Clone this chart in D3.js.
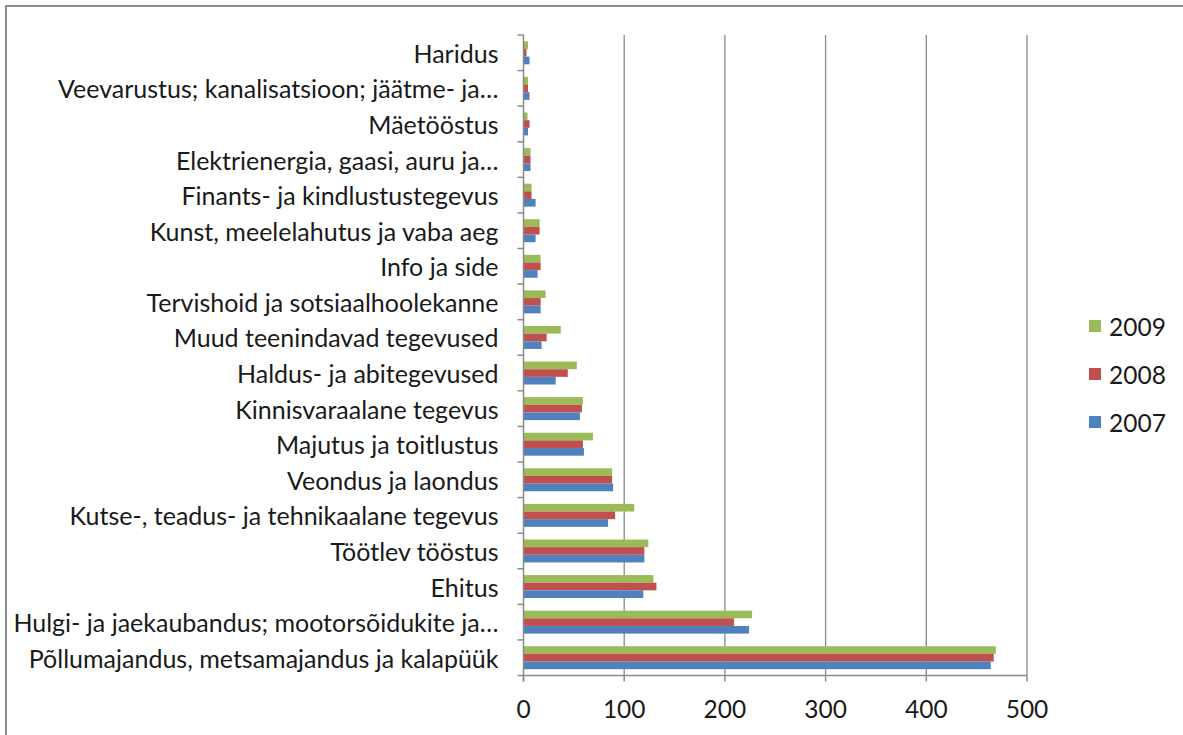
<!DOCTYPE html>
<html>
<head>
<meta charset="utf-8">
<script src="https://cdn.jsdelivr.net/npm/d3@7"></script>
<style>
  html, body { margin: 0; padding: 0; background: #fff; }
  svg { display: block; }
  text { font-family: Lato, "Open Sans", sans-serif; fill: #1a1a1a; }
</style>
</head>
<body>
<script>
const categories = [
  "Haridus",
  "Veevarustus; kanalisatsioon; jäätme- ja…",
  "Mäetööstus",
  "Elektrienergia, gaasi, auru ja…",
  "Finants- ja kindlustustegevus",
  "Kunst, meelelahutus ja vaba aeg",
  "Info ja side",
  "Tervishoid ja sotsiaalhoolekanne",
  "Muud teenindavad tegevused",
  "Haldus- ja abitegevused",
  "Kinnisvaraalane tegevus",
  "Majutus ja toitlustus",
  "Veondus ja laondus",
  "Kutse-, teadus- ja tehnikaalane tegevus",
  "Töötlev tööstus",
  "Ehitus",
  "Hulgi- ja jaekaubandus; mootorsõidukite ja…",
  "Põllumajandus, metsamajandus ja kalapüük"
];
const values2009 = [4.5, 4.5, 4, 7, 8, 16, 17, 22, 37, 53, 59, 69, 88, 110, 124, 129, 227, 469];
const values2008 = [3, 4.5, 6, 7, 8, 16, 17, 17, 23, 44, 58, 59, 88, 91, 120, 132, 209, 467];
const values2007 = [6, 6, 4.5, 7, 12, 12, 14, 17, 18, 32, 56, 60, 89, 84, 120, 119, 224, 464];
const seriesNames = ["2009", "2008", "2007"];
const seriesColors = ["#9BBB59", "#C0504D", "#4F81BD"];
const xTicks = [0, 100, 200, 300, 400, 500];

(function () {
const W = 1183, H = 735;
const svg = d3.select("body").append("svg").attr("width", W).attr("height", H);

// outer frame
svg.append("rect").attr("x", 6).attr("y", 6).attr("width", W + 20).attr("height", H + 20)
  .attr("fill", "none").attr("stroke", "#8c8c8c").attr("stroke-width", 2);

const pLeft = 523.5, pRight = 1027, pTop = 35, pBottom = 675.5;

const x = d3.scaleLinear().domain([0, 500]).range([pLeft, pRight]);
const y = d3.scaleBand().domain(categories).range([pTop, pBottom]).paddingInner(0.355).paddingOuter(0.1775);
const ySub = d3.scaleBand().domain(seriesNames).range([0, y.bandwidth()]);

// gridlines
svg.append("g").selectAll("line").data(xTicks.slice(1)).join("line")
  .attr("x1", d => x(d)).attr("x2", d => x(d)).attr("y1", pTop).attr("y2", pBottom)
  .attr("stroke", "#8a8a8a").attr("stroke-width", 1.3);

// bars
const seriesData = [values2009, values2008, values2007];
seriesNames.forEach((s, i) => {
  svg.append("g").selectAll("rect").data(categories).join("rect")
    .attr("x", x(0))
    .attr("y", (c) => y(c) + ySub(s))
    .attr("width", (c, j) => x(seriesData[i][j]) - x(0))
    .attr("height", ySub.bandwidth())
    .attr("fill", seriesColors[i]);
});

// y axis
const yAxisG = svg.append("g").attr("transform", `translate(${pLeft},0)`);
yAxisG.append("line").attr("x1", 0).attr("x2", 0).attr("y1", pTop).attr("y2", pBottom + 6)
  .attr("stroke", "#8a8a8a").attr("stroke-width", 1.5);
const bounds = categories.map((c) => y(c) - y.step() * y.paddingInner() / 2);
bounds.push(pBottom);
yAxisG.selectAll("line.tk").data(bounds).join("line").attr("class", "tk")
  .attr("x1", -6).attr("x2", 0).attr("y1", d => d).attr("y2", d => d)
  .attr("stroke", "#8a8a8a").attr("stroke-width", 1.5);
yAxisG.selectAll("text").data(categories).join("text")
  .attr("x", -25).attr("y", c => y(c) + y.bandwidth() / 2)
  .attr("text-anchor", "end").attr("dominant-baseline", "central")
  .attr("font-size", 25).text(c => c);

// x axis
const xAxisG = svg.append("g");
xAxisG.append("line").attr("x1", pLeft).attr("x2", pRight).attr("y1", pBottom).attr("y2", pBottom)
  .attr("stroke", "#8a8a8a").attr("stroke-width", 1.5);
xAxisG.selectAll("line.tk").data(xTicks).join("line").attr("class", "tk")
  .attr("x1", d => x(d)).attr("x2", d => x(d)).attr("y1", pBottom).attr("y2", pBottom + 6)
  .attr("stroke", "#8a8a8a").attr("stroke-width", 1.5);
xAxisG.selectAll("text").data(xTicks).join("text")
  .attr("x", d => x(d)).attr("y", 708)
  .attr("text-anchor", "middle").attr("dominant-baseline", "central")
  .attr("font-size", 24.5).text(d => d);

// legend
const legend = svg.append("g");
const legendY = d3.scalePoint().domain(seriesNames).range([326, 422]);
seriesNames.forEach((s, i) => {
  legend.append("rect").attr("x", 1089).attr("y", legendY(s) - 6).attr("width", 12).attr("height", 12)
    .attr("fill", seriesColors[i]);
  legend.append("text").attr("x", 1109).attr("y", legendY(s)).attr("dominant-baseline", "central")
    .attr("font-size", 24.5).text(s);
});
})();
</script>
</body>
</html>
